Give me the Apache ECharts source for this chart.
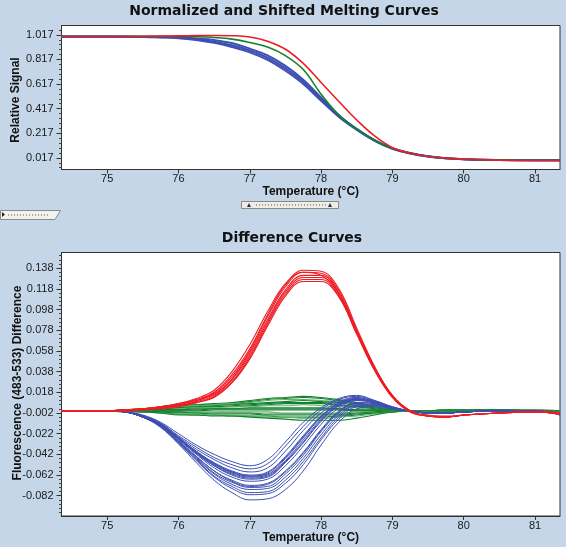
<!DOCTYPE html>
<html><head><meta charset="utf-8">
<script src="https://cdn.jsdelivr.net/npm/echarts/dist/echarts.min.js"></script>
<style>html,body{margin:0;padding:0;background:#c5d6e8;}#c{width:566px;height:547px;}</style>
</head><body><div id="c"></div>
<script>
// ---------- Top chart: normalized & shifted melting curves ----------
const topTemps = [74.36, 75.0, 75.5, 75.75, 76.0, 76.25, 76.5, 76.75, 77.0, 77.25, 77.5, 77.75, 78.0, 78.25, 78.5, 78.75, 79.0, 79.25, 79.5, 79.75, 80.0, 80.5, 81.0, 81.35];
const topRed = [1.003, 1.003, 1.005, 1.007, 1.009, 1.011, 1.012, 1.010, 1.000, 0.965, 0.900, 0.785, 0.630, 0.475, 0.325, 0.195, 0.100, 0.055, 0.030, 0.015, 0.006, -0.002, -0.004, -0.004];
const topGreen = [1.003, 1.003, 1.004, 1.005, 1.006, 1.002, 0.995, 0.982, 0.955, 0.918, 0.848, 0.735, 0.535, 0.365, 0.250, 0.160, 0.093, 0.055, 0.030, 0.014, 0.006, 0.000, -0.002, -0.003];
const topBlueUpper = [1.003, 1.003, 1.002, 1.000, 0.997, 0.988, 0.975, 0.950, 0.905, 0.850, 0.765, 0.652, 0.508, 0.364, 0.253, 0.162, 0.095, 0.056, 0.030, 0.014, 0.006, 0.000, -0.002, -0.003];
const topBlueMid = [1.003, 1.003, 1.001, 0.998, 0.993, 0.981, 0.962, 0.932, 0.890, 0.831, 0.745, 0.635, 0.495, 0.357, 0.249, 0.159, 0.093, 0.055, 0.029, 0.014, 0.006, 0.000, -0.002, -0.003];
const topBlueLower = [1.002, 1.002, 1.000, 0.996, 0.990, 0.975, 0.952, 0.918, 0.875, 0.813, 0.725, 0.618, 0.482, 0.350, 0.245, 0.156, 0.090, 0.053, 0.028, 0.013, 0.005, 0.000, -0.002, -0.003];
const topYTicks = [0.017, 0.217, 0.417, 0.617, 0.817, 1.017];
const xTicks = [75, 76, 77, 78, 79, 80, 81];

// ---------- Bottom chart: difference curves ----------
const diffTemps = [74.36, 75.0, 75.25, 75.5, 75.75, 76.0, 76.25, 76.5, 76.75, 77.0, 77.25, 77.5, 77.75, 78.0, 78.25, 78.5, 78.75, 79.0, 79.25, 79.5, 79.75, 80.0, 80.5, 81.0, 81.35];
const diffRed = [
  [0, 0, 0.001, 0.002, 0.004, 0.007, 0.011, 0.018, 0.035, 0.060, 0.093, 0.122, 0.136, 0.135, 0.118, 0.080, 0.043, 0.015, 0.000, -0.005, -0.006, -0.004, -0.002, -0.001, -0.003],
  [0, 0, 0.001, 0.002, 0.004, 0.006, 0.010, 0.017, 0.033, 0.058, 0.091, 0.120, 0.134, 0.133, 0.116, 0.078, 0.042, 0.015, 0.000, -0.005, -0.006, -0.004, -0.002, -0.001, -0.003],
  [0, 0, 0.001, 0.002, 0.003, 0.006, 0.010, 0.016, 0.031, 0.056, 0.088, 0.117, 0.131, 0.131, 0.114, 0.077, 0.041, 0.014, 0.000, -0.005, -0.006, -0.004, -0.002, -0.001, -0.003],
  [0, 0, 0.001, 0.001, 0.003, 0.005, 0.009, 0.015, 0.030, 0.054, 0.086, 0.115, 0.129, 0.129, 0.113, 0.076, 0.041, 0.014, 0.000, -0.005, -0.006, -0.004, -0.002, -0.001, -0.002],
  [0, 0, 0.000, 0.001, 0.003, 0.005, 0.008, 0.014, 0.028, 0.052, 0.084, 0.113, 0.127, 0.127, 0.111, 0.075, 0.040, 0.014, 0.000, -0.004, -0.005, -0.004, -0.002, -0.001, -0.002],
  [0, 0, 0.000, 0.001, 0.002, 0.004, 0.008, 0.013, 0.027, 0.050, 0.082, 0.111, 0.125, 0.125, 0.110, 0.074, 0.039, 0.013, -0.001, -0.005, -0.006, -0.004, -0.002, -0.001, -0.002],
  [0, 0, 0.001, 0.002, 0.004, 0.007, 0.012, 0.020, 0.038, 0.064, 0.096, 0.123, 0.134, 0.131, 0.113, 0.076, 0.040, 0.013, -0.001, -0.005, -0.006, -0.004, -0.002, -0.001, -0.003]
];
const diffBlue = [
  [0, 0, -0.001, -0.004, -0.011, -0.022, -0.033, -0.042, -0.049, -0.053, -0.047, -0.030, -0.011, 0.003, 0.012, 0.015, 0.010, 0.004, 0.000, -0.002, -0.002, -0.001, 0.000, 0.000, -0.004],
  [0, 0, -0.001, -0.005, -0.012, -0.024, -0.035, -0.045, -0.052, -0.056, -0.051, -0.034, -0.015, 0.001, 0.011, 0.014, 0.010, 0.004, 0.000, -0.002, -0.002, -0.001, 0.000, 0.000, -0.004],
  [0, 0, -0.001, -0.005, -0.012, -0.025, -0.037, -0.047, -0.055, -0.059, -0.055, -0.039, -0.019, -0.002, 0.009, 0.013, 0.009, 0.003, 0.000, -0.002, -0.002, -0.001, 0.000, 0.000, -0.003],
  [0, 0, -0.001, -0.005, -0.013, -0.026, -0.039, -0.050, -0.058, -0.062, -0.059, -0.044, -0.024, -0.005, 0.008, 0.012, 0.009, 0.003, 0.000, -0.002, -0.002, -0.001, 0.000, 0.000, -0.003],
  [0, 0, -0.001, -0.005, -0.013, -0.026, -0.039, -0.051, -0.059, -0.063, -0.060, -0.045, -0.025, -0.006, 0.007, 0.012, 0.009, 0.003, 0.000, -0.002, -0.002, -0.001, 0.000, 0.000, -0.003],
  [0, 0, -0.001, -0.005, -0.013, -0.026, -0.040, -0.051, -0.059, -0.063, -0.061, -0.046, -0.026, -0.006, 0.007, 0.011, 0.008, 0.003, 0.000, -0.002, -0.002, -0.001, 0.000, 0.000, -0.003],
  [0, 0, -0.001, -0.005, -0.013, -0.027, -0.040, -0.052, -0.060, -0.064, -0.062, -0.048, -0.028, -0.008, 0.006, 0.011, 0.008, 0.003, 0.000, -0.002, -0.002, -0.001, 0.000, 0.000, -0.003],
  [0, 0, -0.001, -0.005, -0.013, -0.027, -0.041, -0.053, -0.061, -0.065, -0.063, -0.049, -0.030, -0.009, 0.005, 0.011, 0.008, 0.003, 0.000, -0.002, -0.002, -0.001, 0.000, 0.000, -0.003],
  [0, 0, -0.001, -0.006, -0.014, -0.027, -0.041, -0.053, -0.062, -0.066, -0.064, -0.050, -0.031, -0.010, 0.005, 0.010, 0.008, 0.003, 0.000, -0.002, -0.002, -0.001, 0.000, 0.000, -0.003],
  [0, 0, -0.001, -0.006, -0.014, -0.028, -0.042, -0.055, -0.064, -0.068, -0.066, -0.053, -0.034, -0.013, 0.003, 0.010, 0.008, 0.003, 0.000, -0.002, -0.002, -0.001, 0.000, 0.000, -0.003],
  [0, 0, -0.001, -0.006, -0.014, -0.029, -0.044, -0.058, -0.067, -0.072, -0.070, -0.058, -0.040, -0.018, 0.000, 0.008, 0.007, 0.003, 0.000, -0.002, -0.002, -0.001, 0.000, 0.000, -0.003],
  [0, 0, -0.001, -0.006, -0.014, -0.029, -0.044, -0.058, -0.068, -0.073, -0.071, -0.059, -0.041, -0.019, -0.001, 0.008, 0.007, 0.003, 0.000, -0.002, -0.002, -0.001, 0.000, 0.000, -0.003],
  [0, 0, -0.001, -0.006, -0.015, -0.030, -0.045, -0.060, -0.069, -0.074, -0.073, -0.061, -0.043, -0.020, -0.002, 0.007, 0.006, 0.002, 0.000, -0.002, -0.002, -0.001, 0.000, 0.000, -0.003],
  [0, 0, -0.001, -0.006, -0.015, -0.030, -0.046, -0.061, -0.071, -0.076, -0.075, -0.064, -0.046, -0.023, -0.004, 0.006, 0.006, 0.002, 0.000, -0.002, -0.002, -0.001, 0.000, 0.000, -0.003],
  [0, 0, -0.001, -0.006, -0.015, -0.031, -0.047, -0.063, -0.073, -0.079, -0.078, -0.067, -0.049, -0.026, -0.006, 0.005, 0.005, 0.002, 0.000, -0.002, -0.002, -0.001, 0.000, 0.000, -0.003],
  [0, 0, -0.001, -0.006, -0.015, -0.031, -0.048, -0.064, -0.075, -0.081, -0.080, -0.070, -0.052, -0.028, -0.008, 0.004, 0.005, 0.002, 0.000, -0.002, -0.002, -0.001, 0.000, 0.000, -0.003],
  [0, 0, -0.001, -0.006, -0.016, -0.032, -0.050, -0.067, -0.079, -0.086, -0.085, -0.076, -0.058, -0.033, -0.011, 0.002, 0.004, 0.002, 0.000, -0.002, -0.002, -0.001, 0.000, 0.000, -0.003]
];
const diffGreen = [
  [0, 0, 0.001, 0.002, 0.004, 0.005, 0.006, 0.007, 0.008, 0.010, 0.012, 0.013, 0.014, 0.013, 0.011, 0.008, 0.004, 0.001, 0.000, 0.000, 0.001, 0.001, 0.001, 0.001, 0.000],
  [0, 0, 0.001, 0.002, 0.003, 0.005, 0.006, 0.006, 0.007, 0.009, 0.011, 0.012, 0.013, 0.012, 0.010, 0.007, 0.004, 0.001, 0.000, 0.000, 0.001, 0.001, 0.001, 0.000, 0.000],
  [0, 0, 0.001, 0.002, 0.003, 0.004, 0.005, 0.006, 0.007, 0.008, 0.010, 0.011, 0.011, 0.010, 0.009, 0.006, 0.003, 0.001, 0.000, 0.000, 0.001, 0.001, 0.001, 0.000, 0.000],
  [0, 0, 0.001, 0.001, 0.002, 0.003, 0.004, 0.005, 0.006, 0.007, 0.008, 0.009, 0.010, 0.009, 0.008, 0.005, 0.003, 0.001, 0.000, 0.000, 0.001, 0.001, 0.001, 0.000, 0.000],
  [0, 0, 0.000, 0.001, 0.002, 0.003, 0.004, 0.004, 0.005, 0.006, 0.007, 0.008, 0.008, 0.008, 0.006, 0.004, 0.002, 0.000, 0.000, 0.000, 0.000, 0.000, 0.001, 0.000, 0.000],
  [0, 0, 0.000, 0.001, 0.002, 0.002, 0.003, 0.004, 0.004, 0.005, 0.006, 0.007, 0.007, 0.007, 0.005, 0.004, 0.002, 0.000, 0.000, 0.000, 0.000, 0.000, 0.000, 0.000, 0.000],
  [0, 0, 0.000, 0.001, 0.001, 0.002, 0.003, 0.003, 0.004, 0.004, 0.005, 0.005, 0.006, 0.005, 0.004, 0.003, 0.001, 0.000, 0.000, 0.000, 0.000, 0.000, 0.000, 0.000, 0.000],
  [0, 0, 0.000, 0.000, 0.001, 0.001, 0.002, 0.002, 0.002, 0.003, 0.003, 0.003, 0.003, 0.003, 0.002, 0.001, 0.001, 0.000, 0.000, 0.000, 0.000, 0.000, 0.000, 0.000, 0.000],
  [0, 0, 0.000, 0.000, 0.001, 0.001, 0.001, 0.002, 0.002, 0.002, 0.002, 0.002, 0.002, 0.002, 0.002, 0.001, 0.000, 0.000, 0.000, 0.000, 0.000, 0.000, 0.000, 0.000, 0.000],
  [0, 0, 0.000, 0.000, 0.000, 0.000, 0.000, 0.001, 0.001, 0.001, 0.001, 0.001, 0.001, 0.001, 0.001, 0.000, 0.000, 0.000, 0.000, 0.000, 0.000, 0.000, 0.000, 0.000, 0.000],
  [0, 0, 0.000, 0.000, -0.001, -0.001, -0.001, -0.001, -0.001, -0.001, -0.001, -0.002, -0.002, -0.002, -0.002, -0.001, -0.001, 0.000, 0.000, 0.000, 0.000, 0.000, 0.000, 0.000, 0.000],
  [0, 0, 0.000, 0.000, -0.001, -0.001, -0.002, -0.002, -0.002, -0.002, -0.003, -0.003, -0.003, -0.003, -0.003, -0.002, -0.001, 0.000, 0.000, 0.000, 0.000, 0.000, 0.000, 0.000, 0.000],
  [0, 0, 0.000, -0.001, -0.001, -0.002, -0.002, -0.003, -0.003, -0.003, -0.004, -0.004, -0.004, -0.004, -0.004, -0.003, -0.002, -0.001, 0.000, 0.000, 0.000, 0.000, 0.000, 0.000, 0.000],
  [0, 0, 0.000, -0.001, -0.002, -0.003, -0.004, -0.004, -0.005, -0.005, -0.005, -0.006, -0.006, -0.006, -0.005, -0.004, -0.002, -0.001, 0.000, 0.000, 0.000, 0.000, 0.000, 0.000, 0.000],
  [0, 0, 0.000, -0.001, -0.002, -0.003, -0.003, -0.004, -0.004, -0.005, -0.006, -0.006, -0.007, -0.007, -0.006, -0.005, -0.003, -0.001, 0.000, 0.000, 0.000, 0.000, 0.000, 0.000, 0.000],
  [0, 0, -0.001, -0.001, -0.002, -0.004, -0.004, -0.005, -0.005, -0.006, -0.007, -0.008, -0.009, -0.009, -0.009, -0.007, -0.004, -0.001, 0.000, 0.000, 0.000, 0.000, 0.000, 0.000, 0.000]
];
const diffYTicks = [-0.082, -0.062, -0.042, -0.022, -0.002, 0.018, 0.038, 0.058, 0.078, 0.098, 0.118, 0.138];

const RED = '#ee1c24', GREEN = '#12802e', GREEN_LIGHT = '#62b36e', BLUE = '#3d4fb2';
const TOP_MIN = -0.0775, TOP_MAX = 1.093, BOT_MIN = -0.1016, BOT_MAX = 0.1531;
const X_MIN = 74.36, X_MAX = 81.35;

function minorTicks(majors, step, lo, hi) {
  const out = [];
  const base = majors[0];
  for (let k = -40; k <= 400; k++) {
    const v = +(base + k * step).toFixed(4);
    if (v <= lo || v >= hi) continue;
    if (majors.some(m => Math.abs(m - v) < step / 4)) continue;
    out.push(v);
  }
  return out;
}
const pair = (xs, ys) => xs.map((x, i) => [x, ys[i]]);

const labelFont = { fontFamily: 'Liberation Sans', fontSize: 11, color: '#1a1a1a' };
function xAxisCfg(gi, gap) {
  return {
    type: 'value', gridIndex: gi, min: X_MIN, max: X_MAX,
    axisLine: { show: true, onZero: false, lineStyle: { color: '#333', width: 1 } },
    axisTick: { show: true, customValues: xTicks, length: 4, lineStyle: { color: '#333' } },
    axisLabel: Object.assign({ customValues: xTicks, margin: 4, formatter: v => String(v) }, labelFont),
    splitLine: { show: false },
    name: 'Temperature (°C)', nameLocation: 'middle', nameGap: gap,
    nameTextStyle: { fontFamily: 'Liberation Sans', fontWeight: 'bold', fontSize: 12, color: '#111' }
  };
}
function yMajor(gi, lo, hi, ticks) {
  return {
    type: 'value', gridIndex: gi, min: lo, max: hi, position: 'left',
    axisLine: { show: true, onZero: false, lineStyle: { color: '#333', width: 1 } },
    axisTick: { show: true, customValues: ticks, length: 5, lineStyle: { color: '#333' } },
    axisLabel: Object.assign({ customValues: ticks, margin: 8, formatter: v => v.toFixed(3) }, labelFont),
    splitLine: { show: false }
  };
}
function yMinor(gi, lo, hi, ticks) {
  return {
    type: 'value', gridIndex: gi, min: lo, max: hi, position: 'left',
    axisLine: { show: false, onZero: false },
    axisTick: { show: true, customValues: ticks, length: 2.5, lineStyle: { color: '#444' } },
    axisLabel: { show: false }, splitLine: { show: false }
  };
}

const series = [];
function addLine(xi, yi, xs, ys, color, width, z) {
  series.push({ type: 'line', xAxisIndex: xi, yAxisIndex: yi, data: pair(xs, ys), showSymbol: false,
    smooth: 0.4, silent: true, z: z,
    lineStyle: { color: color, width: width } });
}
// top chart
addLine(0, 0, topTemps, topBlueUpper, BLUE, 2, 2);
addLine(0, 0, topTemps, topBlueMid, BLUE, 2, 2);
addLine(0, 0, topTemps, topBlueLower, BLUE, 2, 2);
addLine(0, 0, topTemps, topGreen, GREEN, 1.6, 3);
addLine(0, 0, topTemps, topRed, RED, 1.6, 4);
// bottom chart
diffGreen.forEach((ys, i) => addLine(1, 2, diffTemps, ys, i % 4 === 2 ? GREEN_LIGHT : GREEN, 1.1, 2));
diffBlue.forEach(ys => addLine(1, 2, diffTemps, ys, BLUE, 1, 3));
diffRed.forEach(ys => addLine(1, 2, diffTemps, ys, RED, 1.1, 4));

const chart = echarts.init(document.getElementById('c'), null, { renderer: 'canvas' });
chart.setOption({
  backgroundColor: '#c5d6e8',
  animation: false,
  grid: [
    { left: 61.5, right: 6, top: 25.5, height: 144, show: true, backgroundColor: '#fff', borderColor: '#333', borderWidth: 1 },
    { left: 61.5, right: 6, top: 252.5, height: 263.5, show: true, backgroundColor: '#fff', borderColor: '#333', borderWidth: 1 }
  ],
  xAxis: [xAxisCfg(0, 16), xAxisCfg(1, 15)],
  yAxis: [
    yMajor(0, TOP_MIN, TOP_MAX, topYTicks),
    yMinor(0, TOP_MIN, TOP_MAX, minorTicks(topYTicks, 0.04, TOP_MIN, TOP_MAX)),
    yMajor(1, BOT_MIN, BOT_MAX, diffYTicks),
    yMinor(1, BOT_MIN, BOT_MAX, minorTicks(diffYTicks, 0.004, BOT_MIN, BOT_MAX))
  ],
  series: series,
  graphic: [
    { type: 'text', x: 284, y: 11, style: { text: 'Normalized and Shifted Melting Curves', font: 'bold 14px "DejaVu Sans"', fill: '#111', align: 'center', verticalAlign: 'middle' } },
    { type: 'text', x: 292, y: 238, style: { text: 'Difference Curves', font: 'bold 14px "DejaVu Sans"', fill: '#111', align: 'center', verticalAlign: 'middle' } },
    { type: 'text', x: 16, y: 100, rotation: Math.PI / 2, style: { text: 'Relative Signal', font: 'bold 12px "Liberation Sans"', fill: '#111', align: 'center', verticalAlign: 'middle' } },
    { type: 'text', x: 18, y: 383, rotation: Math.PI / 2, style: { text: 'Fluorescence (483-533) Difference', font: 'bold 12px "Liberation Sans"', fill: '#111', align: 'center', verticalAlign: 'middle' } },
    // splitter handle
    { type: 'rect', shape: { x: 241.5, y: 201.5, width: 97, height: 7 }, style: { fill: '#efede4', stroke: '#8a8a8a', lineWidth: 1 } },
    { type: 'line', shape: { x1: 256, y1: 205, x2: 326, y2: 205 }, style: { stroke: '#555', lineWidth: 1, lineDash: [1, 2] } },
    { type: 'polygon', shape: { points: [[247, 207], [251, 207], [249, 203]] }, style: { fill: '#2a2a6a' } },
    { type: 'polygon', shape: { points: [[328, 207], [332, 207], [330, 203]] }, style: { fill: '#2a2a6a' } },
    // left tab
    { type: 'polygon', shape: { points: [[0.5, 210.5], [60.5, 210.5], [55, 219.5], [0.5, 219.5]] }, style: { fill: '#f3f2ec', stroke: '#8a8a8a', lineWidth: 1 } },
    { type: 'polygon', shape: { points: [[2, 212], [2, 217], [5, 214.5]] }, style: { fill: '#222' } },
    { type: 'line', shape: { x1: 8, y1: 215, x2: 49, y2: 215 }, style: { stroke: '#555', lineWidth: 1, lineDash: [1, 2] } }
  ]
});
</script></body></html>
